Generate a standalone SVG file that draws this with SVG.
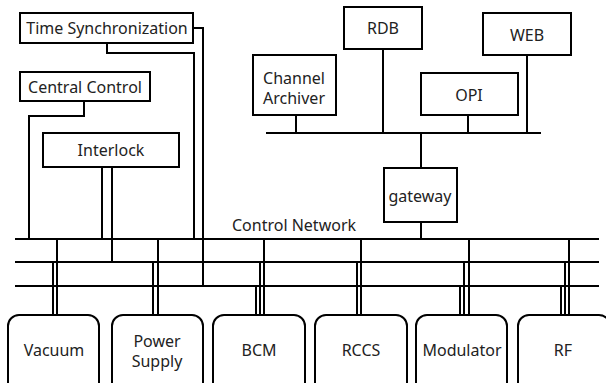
<svg xmlns="http://www.w3.org/2000/svg" width="606" height="383" viewBox="0 0 606 383">
  <style>
    .box { fill: #fff; stroke: #000; stroke-width: 2; }
    .dev { fill: #fff; stroke: #000; stroke-width: 2; }
    .ln { fill: none; stroke: #000; stroke-width: 2; }
    text { font-family: "Noto Sans", "Open Sans", sans-serif; font-size: 16px; fill: #222; text-anchor: middle; }
  </style>
  <rect width="606" height="383" fill="#fff"/>

  <!-- connectors -->
  <g id="connectors" class="ln">
    <!-- control network buses -->
    <path d="M15 239H599M15 262H599M15 286H599"/>
    <!-- upper server bus -->
    <path d="M266 133H541"/>
    <path d="M296 115V133M383 49V133M468 115V133M527 55V133M421 133V168M421 222V239"/>
    <!-- upper-left links -->
    <path d="M107 43V53H194V239"/>
    <path d="M193 28H203V286"/>
    <path d="M84 101V116H29V239"/>
    <path d="M102 167V239M112 167V262"/>
    <!-- device drops -->
    <path d="M57 239V315M53 262V315"/>
    <path d="M158 239V315M153 262V315"/>
    <path d="M264 239V315M260 262V315M256 286V315"/>
    <path d="M361 239V315M357 262V315"/>
    <path d="M469 239V315M464 262V315M460 286V315"/>
    <path d="M569 239V315M565 262V315M561 286V315"/>
  </g>

  <text x="294" y="231">Control Network</text>

  <g id="time-sync"><rect class="box" x="20" y="13" width="173" height="30"/><text x="107" y="34">Time Synchronization</text></g>
  <g id="central-control"><rect class="box" x="20" y="72" width="130" height="29"/><text x="85" y="93">Central Control</text></g>
  <g id="interlock"><rect class="box" x="43" y="133" width="136" height="34"/><text x="111" y="156">Interlock</text></g>
  <g id="rdb"><rect class="box" x="344" y="7" width="78" height="42"/><text x="383" y="34">RDB</text></g>
  <g id="web"><rect class="box" x="483" y="13" width="88" height="42"/><text x="527" y="41">WEB</text></g>
  <g id="channel-archiver"><rect class="box" x="253" y="55" width="83" height="60"/><text x="294" y="84">Channel</text><text x="294" y="104">Archiver</text></g>
  <g id="opi"><rect class="box" x="421" y="73" width="97" height="42"/><text x="469" y="101">OPI</text></g>
  <g id="gateway"><rect class="box" x="384" y="168" width="73" height="54"/><text x="420" y="202">gateway</text></g>

  <g id="vacuum"><rect class="dev" x="8" y="315" width="91" height="80" rx="11"/><text x="54" y="356">Vacuum</text></g>
  <g id="power-supply"><rect class="dev" x="112" y="315" width="91" height="80" rx="11"/><text x="157" y="347">Power</text><text x="157" y="367">Supply</text></g>
  <g id="bcm"><rect class="dev" x="213" y="315" width="92" height="80" rx="11"/><text x="259" y="356">BCM</text></g>
  <g id="rccs"><rect class="dev" x="315" y="315" width="92" height="80" rx="11"/><text x="361" y="356">RCCS</text></g>
  <g id="modulator"><rect class="dev" x="416" y="315" width="91" height="80" rx="11"/><text x="462" y="356">Modulator</text></g>
  <g id="rf"><rect class="dev" x="518" y="315" width="92" height="80" rx="11"/><text x="563" y="356">RF</text></g>
</svg>
